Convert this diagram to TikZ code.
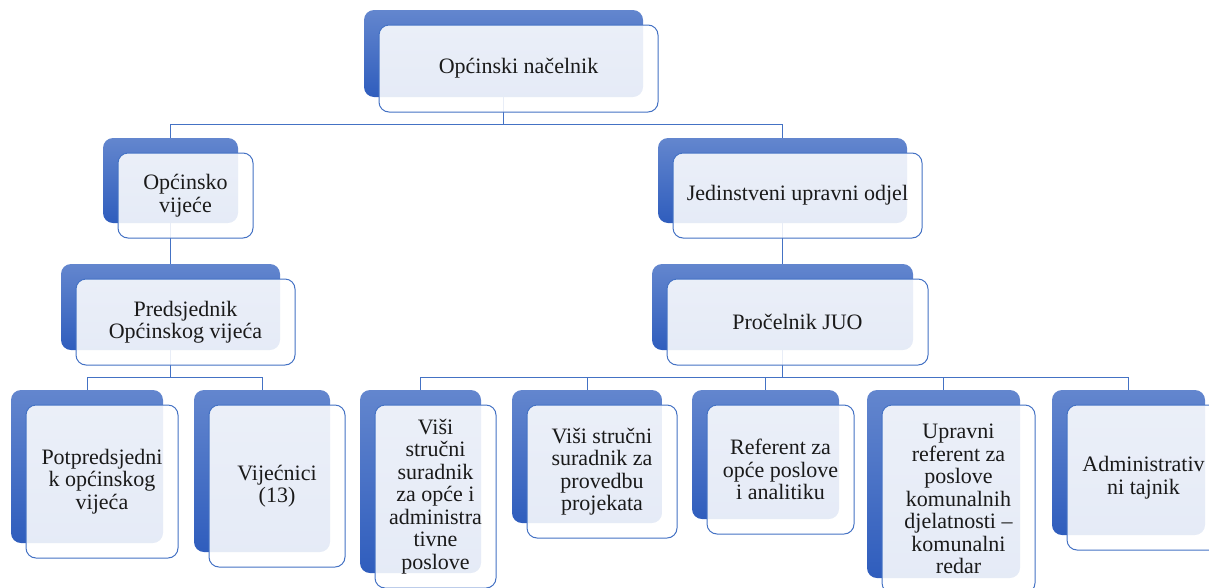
\documentclass[tikz,border=0pt]{standalone}
\usepackage{fontspec}
\setmainfont{Liberation Serif}
\usepackage{tikz}

\definecolor{backtop}{HTML}{6386CE}
\definecolor{backbottom}{HTML}{2F5DBD}
\definecolor{frameblue}{HTML}{4472C4}
\definecolor{inktext}{HTML}{1A1A1A}

\begin{document}
\begin{tikzpicture}[x=1pt,y=-1pt,
    backbox/.style={rectangle, inner sep=0pt, rounded corners=10pt,
        top color=backtop, bottom color=backbottom},
    frontbox/.style={rectangle, inner sep=0pt, rounded corners=10pt,
        draw=frameblue, line width=1pt, fill=white, fill opacity=0.88,
        text opacity=1, text=inktext, align=center,
        font=\fontsize{22}{22.5}\selectfont},
    link/.style={draw=frameblue, line width=1pt}]
    \useasboundingbox (0,0) rectangle (1209,587);
    \clip (0,0) rectangle (1209,587);

    % back boxes
    \node[backbox, minimum width=279pt, minimum height=87pt] (nacelnik-b) at (503.5,53.5) {};
    \node[backbox, minimum width=135pt, minimum height=85pt] (vijece-b) at (170.5,180.5) {};
    \node[backbox, minimum width=219pt, minimum height=86pt] (predsjednik-b) at (170.5,307) {};
    \node[backbox, minimum width=249pt, minimum height=85pt] (jedinstveni-b) at (782.5,180.5) {};
    \node[backbox, minimum width=261pt, minimum height=86pt] (procelnik-b) at (782.5,307) {};
    \node[backbox, minimum width=152pt, minimum height=153pt] (potpredsjednik-b) at (87,466.5) {};
    \node[backbox, minimum width=136pt, minimum height=162pt] (vijecnici-b) at (262,471) {};
    \node[backbox, minimum width=121pt, minimum height=183pt] (suradnik-b) at (420.5,481.5) {};
    \node[backbox, minimum width=150pt, minimum height=133pt] (projekti-b) at (587,456.5) {};
    \node[backbox, minimum width=147pt, minimum height=129pt] (referent-b) at (765.5,454.5) {};
    \node[backbox, minimum width=153pt, minimum height=188pt] (komunalni-b) at (943.5,484) {};
    \node[backbox, minimum width=153pt, minimum height=145pt] (tajnik-b) at (1128.5,462.5) {};

    % connectors
    \draw[link] (nacelnik-b.south) -- ++(0,27) -| (vijece-b.north);
    \draw[link] (nacelnik-b.south) -- ++(0,27) -| (jedinstveni-b.north);
    \draw[link] (vijece-b.south) -- (predsjednik-b.north);
    \draw[link] (jedinstveni-b.south) -- (procelnik-b.north);
    \draw[link] (predsjednik-b.south) -- ++(0,27) -| (potpredsjednik-b.north);
    \draw[link] (predsjednik-b.south) -- ++(0,27) -| (vijecnici-b.north);
    \draw[link] (procelnik-b.south) -- ++(0,27) -| (suradnik-b.north);
    \draw[link] (procelnik-b.south) -- ++(0,27) -| (projekti-b.north);
    \draw[link] (procelnik-b.south) -- ++(0,27) -| (referent-b.north);
    \draw[link] (procelnik-b.south) -- ++(0,27) -| (komunalni-b.north);
    \draw[link] (procelnik-b.south) -- ++(0,27) -| (tajnik-b.north);

    % front boxes
    \node[frontbox, minimum width=279pt, minimum height=87pt] (nacelnik) at ([shift={(15,15)}]nacelnik-b) {Općinski načelnik};
    \node[frontbox, minimum width=135pt, minimum height=85pt] (vijece) at ([shift={(15,15)}]vijece-b) {Općinsko\\vijeće};
    \node[frontbox, minimum width=219pt, minimum height=86pt] (predsjednik) at ([shift={(15,15)}]predsjednik-b) {Predsjednik\\Općinskog vijeća};
    \node[frontbox, minimum width=249pt, minimum height=85pt] (jedinstveni) at ([shift={(15,15)}]jedinstveni-b) {Jedinstveni upravni odjel};
    \node[frontbox, minimum width=261pt, minimum height=86pt] (procelnik) at ([shift={(15,15)}]procelnik-b) {Pročelnik JUO};
    \node[frontbox, minimum width=152pt, minimum height=153pt] (potpredsjednik) at ([shift={(15,15)}]potpredsjednik-b) {Potpredsjedni\\k općinskog\\vijeća};
    \node[frontbox, minimum width=136pt, minimum height=162pt] (vijecnici) at ([shift={(15,15)}]vijecnici-b) {Vijećnici\\(13)};
    \node[frontbox, minimum width=121pt, minimum height=183pt] (suradnik) at ([shift={(15,15)}]suradnik-b) {Viši\\stručni\\suradnik\\za opće i\\administra\\tivne\\poslove};
    \node[frontbox, minimum width=150pt, minimum height=133pt] (projekti) at ([shift={(15,15)}]projekti-b) {Viši stručni\\suradnik za\\provedbu\\projekata};
    \node[frontbox, minimum width=147pt, minimum height=129pt] (referent) at ([shift={(15,15)}]referent-b) {Referent za\\opće poslove\\i analitiku};
    \node[frontbox, minimum width=153pt, minimum height=188pt] (komunalni) at ([shift={(15,15)}]komunalni-b) {Upravni\\referent za\\poslove\\komunalnih\\djelatnosti –\\komunalni\\redar};
    \node[frontbox, minimum width=153pt, minimum height=145pt] (tajnik) at ([shift={(15,15)}]tajnik-b) {Administrativ\\ni tajnik};
\end{tikzpicture}
\end{document}
